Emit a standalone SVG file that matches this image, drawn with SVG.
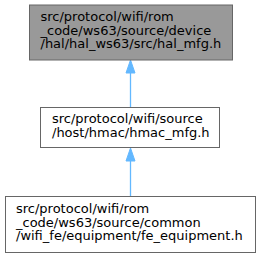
<svg xmlns="http://www.w3.org/2000/svg" width="261" height="256" viewBox="0 0 261 256">
<style>
.box{fill:#ffffff;stroke:#666666;stroke-width:1}
.main{fill:#999999;stroke:#666666;stroke-width:1}
.t{font-family:"DejaVu Sans",sans-serif;font-size:13px;fill:#000000}
.edge{stroke:#63b8ff;stroke-width:1.3;fill:none}
.head{fill:#63b8ff;stroke:#63b8ff;stroke-width:1}
</style>
<rect width="261" height="256" fill="#ffffff"/>
<g id="connectors">
<g id="edge1">
<line class="edge" x1="130.5" y1="107" x2="130.5" y2="72"/>
<polygon class="head" points="126,73 130.5,60 135,73"/>
</g>
<g id="edge2">
<line class="edge" x1="130.5" y1="196" x2="130.5" y2="160"/>
<polygon class="head" points="126,161 130.5,148 135,161"/>
</g>
</g>
<g id="node1">
<rect class="main" x="29.5" y="5" width="203" height="55"/>
<text class="t" x="40.5" y="21">src/protocol/wifi/rom</text>
<text class="t" x="40.5" y="34.5">_code/ws63/source/device</text>
<text class="t" x="40.5" y="48">/hal/hal_ws63/src/hal_mfg.h</text>
</g>
<g id="node2">
<rect class="box" x="40.5" y="107.5" width="179" height="40"/>
<text class="t" x="52" y="123">src/protocol/wifi/source</text>
<text class="t" x="52" y="136.5">/host/hmac/hmac_mfg.h</text>
</g>
<g id="node3">
<rect class="box" x="5.5" y="196.5" width="250" height="56"/>
<text class="t" x="16" y="213">src/protocol/wifi/rom</text>
<text class="t" x="16" y="226.5">_code/ws63/source/common</text>
<text class="t" x="16" y="240">/wifi_fe/equipment/fe_equipment.h</text>
</g>
</svg>
